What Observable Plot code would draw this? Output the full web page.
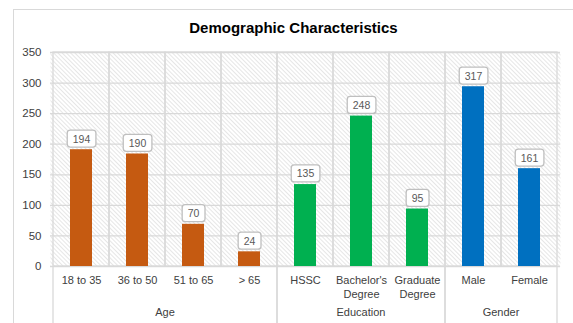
<!DOCTYPE html>
<html>
<head>
<meta charset="utf-8">
<script src="https://cdn.jsdelivr.net/npm/d3@7"></script>
<script src="https://cdn.jsdelivr.net/npm/@observablehq/plot@0.6"></script>
<style>
  body { margin: 0; background: #fff; font-family: "Liberation Sans", Arial, sans-serif; }
  #wrap { position: relative; width: 573px; height: 323px; overflow: hidden; }
  #border { position: absolute; left: 13px; top: 9px; width: 700px; height: 500px; border: 1px solid #d9d9d9; box-sizing: border-box; }
  #title { position: absolute; left: 13px; width: 561px; top: 19px; line-height: 18px; text-align: center; font-size: 15px; font-weight: bold; color: #000; }
  #chart { position: absolute; left: 0; top: 0; }
</style>
</head>
<body>
<div id="wrap">
  <div id="border"></div>
  <div id="chart"></div>
  <div id="title">Demographic Characteristics</div>
</div>
<script>
// ---- data ----
const categories = ["18 to 35", "36 to 50", "51 to 65", "> 65", "HSSC", "Bachelor's Degree", "Graduate Degree", "Male", "Female"];
const tickLabels = ["18 to 35", "36 to 50", "51 to 65", "> 65", "HSSC", "Bachelor's\nDegree", "Graduate\nDegree", "Male", "Female"];
const categoryGroup = ["Age", "Age", "Age", "Age", "Education", "Education", "Education", "Gender", "Gender"];
const barHeights = [191, 184, 69, 24, 134, 246, 94, 294, 160];   // bar tops as drawn
const dataLabels = [194, 190, 70, 24, 135, 248, 95, 317, 161];   // printed labels
const groupNames = ["Age", "Education", "Gender"];
const groupColors = ["#C55A11", "#00B050", "#0070C0"];
const yTicks = [0, 50, 100, 150, 200, 250, 300, 350];

const data = categories.map((c, i) => ({
  cat: c, tick: tickLabels[i], group: categoryGroup[i], bar: barHeights[i], label: dataLabels[i]
}));

const grid = "#d9d9d9";

const plot = Plot.plot({
  width: 573,
  height: 323,
  marginLeft: 50,
  marginRight: 13,
  marginTop: 52,
  marginBottom: 57,
  style: { fontFamily: "'Liberation Sans', Arial, sans-serif", fontSize: "11.5px", color: "#404040", background: "transparent", overflow: "visible" },
  x: { domain: categories, padding: 0, axis: null },
  y: { domain: [0, 350], ticks: yTicks, tickSize: 0, tickPadding: 9, label: null },
  color: { domain: groupNames, range: groupColors },
  marks: [
    Plot.frame({ fill: "white" }),
    Plot.barY(data, { x: "cat", y1: 0, y2: 350, fill: "none", stroke: grid, strokeWidth: 1.3 }),
    Plot.ruleY(yTicks, { stroke: grid, strokeWidth: 1.3 }),
    Plot.barY(data, { x: "cat", y: "bar", fill: "group", insetLeft: 17, insetRight: 17 }),
    Plot.text(data, { x: "cat", y: "bar", text: "label", dy: -10.5, fill: "#595959", fontSize: 10.5 }),
    Plot.text(data, { x: "cat", text: "tick", frameAnchor: "bottom", lineAnchor: "top", dy: 8, lineHeight: 1.27, fill: "#404040", fontSize: 11 })
  ]
});
document.getElementById("chart").appendChild(plot);

// ---- decorations using the plot's own scales ----
const svg = d3.select(plot);
const defs = svg.insert("defs", ":first-child");
const pat = defs.append("pattern").attr("id", "hatch").attr("patternUnits", "userSpaceOnUse")
  .attr("width", 3).attr("height", 3).attr("patternTransform", "rotate(-45)");
pat.append("rect").attr("width", 3).attr("height", 3).attr("fill", "#ffffff");
pat.append("line").attr("x1", 0.5).attr("y1", 0).attr("x2", 0.5).attr("y2", 3).attr("stroke", "#e6e6e6").attr("stroke-width", 1);
svg.selectAll('[aria-label="frame"]').each(function () {
  this.setAttribute("fill", "url(#hatch)");
  this.querySelectorAll("rect").forEach(r => r.setAttribute("fill", "url(#hatch)"));
});

// label boxes
const textGroups = plot.querySelectorAll('g[aria-label="text"]');
const labelGroup = textGroups[0];
labelGroup.querySelectorAll("text").forEach(t => {
  const bb = t.getBBox();
  const r = document.createElementNS("http://www.w3.org/2000/svg", "rect");
  r.setAttribute("x", bb.x - 5.5);
  r.setAttribute("y", bb.y - 2.5);
  r.setAttribute("width", bb.width + 11);
  r.setAttribute("height", bb.height + 5);
  r.setAttribute("rx", 3);
  r.setAttribute("fill", "#ffffff");
  r.setAttribute("stroke", "#bfbfbf");
  r.setAttribute("stroke-width", 1.3);
  if (t.getAttribute("transform")) r.setAttribute("transform", t.getAttribute("transform"));
  t.parentNode.insertBefore(r, t);
});

// group labels and separators below the axis
const xs = plot.scale("x");
const ys = plot.scale("y");
const bw = xs.bandwidth;
const yAxis = ys.apply(0);
const gSep = svg.append("g");
groupNames.forEach(g => {
  const cats = categories.filter((c, i) => categoryGroup[i] === g);
  const x0 = xs.apply(cats[0]);
  const x1 = xs.apply(cats[cats.length - 1]) + bw;
  gSep.append("line").attr("x1", x0).attr("x2", x0).attr("y1", yAxis).attr("y2", 323)
    .attr("stroke", grid).attr("stroke-width", 1.3);
  gSep.append("line").attr("x1", x1).attr("x2", x1).attr("y1", yAxis).attr("y2", 323)
    .attr("stroke", grid).attr("stroke-width", 1.3);
  gSep.append("text").attr("x", (x0 + x1) / 2).attr("y", yAxis + 46).attr("dy", "0.35em")
    .attr("text-anchor", "middle").attr("fill", "#404040").attr("font-size", 11).text(g);
});
</script>
</body>
</html>
